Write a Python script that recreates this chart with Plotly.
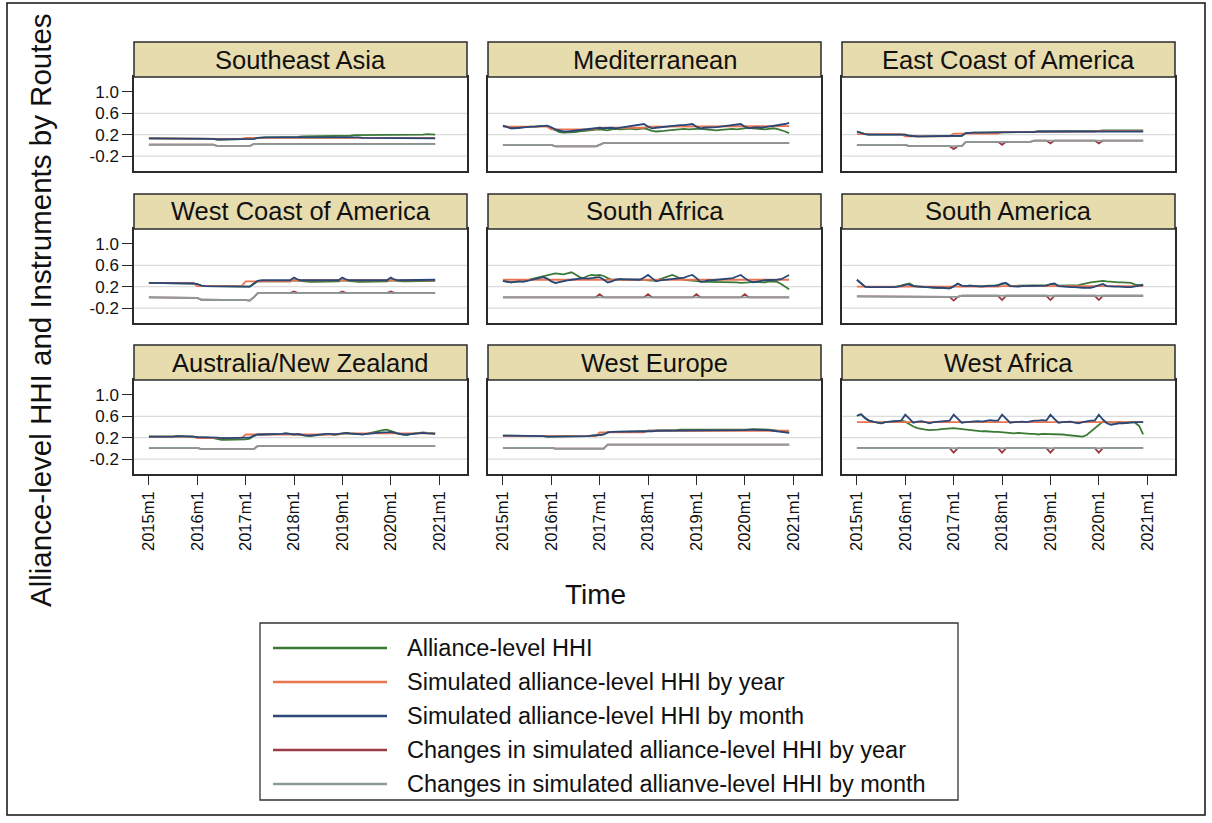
import plotly.graph_objects as go

# ---------------- data ----------------
REGIONS = ["Southeast Asia", "Mediterranean", "East Coast of America",
           "West Coast of America", "South Africa", "South America",
           "Australia/New Zealand", "West Europe", "West Africa"]
SERIES_NAMES = ["Alliance-level HHI",
                "Simulated alliance-level HHI by year",
                "Simulated alliance-level HHI by month",
                "Changes in simulated alliance-level HHI by year",
                "Changes in simulated allianve-level HHI by month"]
MONTHS = [f"{y}m{m}" for y in range(2015, 2021) for m in range(1, 13)]
X_TICK_LABELS = ["2015m1", "2016m1", "2017m1", "2018m1", "2019m1", "2020m1", "2021m1"]
Y_TICKS = [-0.2, 0.2, 0.6, 1.0]
Y_GRID = [-0.2, 0.2, 0.6]

# Southeast Asia
SEA_HHI = [0.13,0.13,0.13,0.12,0.13,0.13,0.13,0.12,0.13,0.13,0.12,0.12,
           0.12,0.12,0.12,0.12,0.12,0.11,0.11,0.11,0.11,0.11,0.11,0.11,
           0.11,0.11,0.12,0.14,0.15,0.15,0.15,0.15,0.15,0.16,0.16,0.16,
           0.16,0.16,0.17,0.17,0.17,0.17,0.17,0.18,0.18,0.17,0.18,0.18,
           0.18,0.18,0.18,0.19,0.19,0.19,0.19,0.19,0.19,0.19,0.20,0.20,
           0.20,0.20,0.20,0.20,0.20,0.20,0.20,0.20,0.20,0.21,0.20,0.20]
SEA_SIM_Y = [0.13]*12 + [0.12]*12 + [0.14]*12 + [0.15]*12 + [0.15]*12 + [0.14]*12
SEA_SIM_M = [0.13,0.13,0.13,0.12,0.13,0.13,0.13,0.12,0.13,0.13,0.12,0.12,
             0.12,0.12,0.12,0.12,0.12,0.11,0.11,0.11,0.11,0.11,0.11,0.11,
             0.11,0.11,0.12,0.14,0.15,0.15,0.15,0.15,0.15,0.15,0.15,0.15,
             0.15,0.15,0.15,0.16,0.15,0.15,0.16,0.16,0.15,0.15,0.15,0.15,
             0.15,0.15,0.15,0.15,0.15,0.14,0.14,0.14,0.14,0.14,0.14,0.14,
             0.14,0.14,0.13,0.13,0.13,0.13,0.13,0.13,0.13,0.13,0.13,0.13]
SEA_CHG_Y = [0.015,0.015,0.015,0.015,0.015,0.015,0.015,0.015,0.015,0.015,0.015,0.015,
             0.015,0.015,0.015,0.015,0.015,-0.015,-0.015,-0.015,-0.015,-0.015,-0.015,-0.015,
             -0.015,-0.015,0.025,0.025,0.025,0.025,0.025,0.025,0.025,0.025,0.025,0.025,
             0.012,0.025,0.025,0.025,0.025,0.025,0.025,0.025,0.025,0.025,0.025,0.025,
             0.012,0.025,0.025,0.025,0.025,0.025,0.025,0.025,0.025,0.025,0.025,0.025,
             0.012,0.025,0.025,0.025,0.025,0.025,0.025,0.025,0.025,0.025,0.025,0.025]
SEA_CHG_M = [0.015,0.015,0.015,0.015,0.015,0.015,0.015,0.015,0.015,0.015,0.015,0.015,
             0.015,0.015,0.015,0.015,0.015,-0.015,-0.015,-0.015,-0.015,-0.015,-0.015,-0.015,
             -0.015,-0.015,0.025,0.025,0.025,0.025,0.025,0.025,0.025,0.025,0.025,0.025,
             0.025,0.025,0.025,0.025,0.025,0.025,0.025,0.025,0.025,0.025,0.025,0.025,
             0.025,0.025,0.025,0.025,0.025,0.025,0.025,0.025,0.025,0.025,0.025,0.025,
             0.025,0.025,0.025,0.025,0.025,0.025,0.025,0.025,0.025,0.025,0.025,0.025]

# Mediterranean
MED_HHI = [0.36,0.35,0.32,0.32,0.33,0.34,0.34,0.35,0.35,0.36,0.36,0.36,
           0.32,0.28,0.25,0.24,0.24,0.24,0.25,0.26,0.27,0.27,0.28,0.29,
           0.30,0.29,0.28,0.30,0.31,0.30,0.31,0.31,0.31,0.30,0.31,0.32,
           0.30,0.27,0.26,0.26,0.27,0.28,0.29,0.30,0.31,0.31,0.30,0.31,
           0.31,0.31,0.30,0.29,0.28,0.28,0.29,0.30,0.30,0.31,0.30,0.31,
           0.32,0.33,0.32,0.31,0.30,0.30,0.31,0.32,0.31,0.29,0.26,0.23]
MED_SIM_Y = [0.35]*12 + [0.30]*12 + [0.33]*12 + [0.35]*12 + [0.35]*12 + [0.36]*12
MED_SIM_M = [0.37,0.35,0.32,0.32,0.33,0.34,0.34,0.35,0.35,0.36,0.36,0.37,
             0.34,0.30,0.28,0.26,0.26,0.27,0.28,0.29,0.29,0.30,0.31,0.32,
             0.33,0.32,0.33,0.33,0.32,0.33,0.35,0.36,0.37,0.38,0.39,0.40,
             0.35,0.32,0.33,0.34,0.35,0.35,0.36,0.37,0.38,0.38,0.39,0.40,
             0.35,0.32,0.33,0.33,0.34,0.34,0.35,0.36,0.37,0.38,0.39,0.40,
             0.35,0.32,0.33,0.34,0.33,0.34,0.35,0.36,0.37,0.38,0.40,0.42]
MED_CHG_Y = [0.008,0.008,0.008,0.008,0.008,0.008,0.008,0.008,0.008,0.008,0.008,0.008,
             0.008,-0.02,-0.02,-0.02,-0.02,-0.02,-0.02,-0.02,-0.02,-0.02,-0.02,-0.02,
             0.01,0.045,0.045,0.045,0.045,0.045,0.045,0.045,0.045,0.045,0.045,0.045,
             0.032,0.045,0.045,0.045,0.045,0.045,0.045,0.045,0.045,0.045,0.045,0.045,
             0.032,0.045,0.045,0.045,0.045,0.045,0.045,0.045,0.045,0.045,0.045,0.045,
             0.032,0.045,0.045,0.045,0.045,0.045,0.045,0.045,0.045,0.045,0.045,0.045]
MED_CHG_M = [0.008,0.008,0.008,0.008,0.008,0.008,0.008,0.008,0.008,0.008,0.008,0.008,
             0.008,-0.02,-0.02,-0.02,-0.02,-0.02,-0.02,-0.02,-0.02,-0.02,-0.02,-0.02,
             0.01,0.045,0.045,0.045,0.045,0.045,0.045,0.045,0.045,0.045,0.045,0.045,
             0.045,0.045,0.045,0.045,0.045,0.045,0.045,0.045,0.045,0.045,0.045,0.045,
             0.045,0.045,0.045,0.045,0.045,0.045,0.045,0.045,0.045,0.045,0.045,0.045,
             0.045,0.045,0.045,0.045,0.045,0.045,0.045,0.045,0.045,0.045,0.045,0.045]

# East Coast of America
ECA_HHI = [0.26,0.23,0.21,0.20,0.20,0.20,0.20,0.20,0.20,0.20,0.20,0.20,
           0.20,0.18,0.17,0.17,0.17,0.17,0.17,0.17,0.17,0.17,0.17,0.17,
           0.17,0.17,0.18,0.23,0.24,0.24,0.24,0.24,0.24,0.24,0.24,0.24,
           0.24,0.24,0.25,0.24,0.24,0.24,0.24,0.25,0.25,0.26,0.26,0.26,
           0.26,0.26,0.26,0.26,0.26,0.26,0.27,0.27,0.27,0.27,0.27,0.27,
           0.27,0.28,0.28,0.28,0.28,0.28,0.28,0.28,0.28,0.28,0.28,0.28]
ECA_SIM_Y = [0.21]*12 + [0.17]*12 + [0.22]*12 + [0.25]*12 + [0.26]*12 + [0.27]*12
ECA_SIM_M = [0.26,0.23,0.21,0.20,0.20,0.20,0.20,0.20,0.20,0.20,0.20,0.20,
             0.20,0.18,0.17,0.17,0.17,0.17,0.17,0.17,0.17,0.17,0.17,0.17,
             0.17,0.17,0.18,0.23,0.24,0.24,0.24,0.24,0.24,0.24,0.24,0.24,
             0.24,0.24,0.25,0.24,0.24,0.24,0.24,0.25,0.25,0.26,0.26,0.26,
             0.26,0.26,0.26,0.26,0.26,0.26,0.26,0.26,0.26,0.26,0.26,0.26,
             0.26,0.26,0.26,0.27,0.26,0.26,0.26,0.27,0.26,0.26,0.26,0.26]
ECA_CHG_Y = [0.01,0.01,0.01,0.01,0.01,0.01,0.01,0.01,0.01,0.01,0.01,0.01,
             0.01,-0.015,-0.015,-0.015,-0.015,-0.015,-0.015,-0.015,-0.015,-0.015,-0.015,-0.015,
             -0.07,-0.015,-0.015,0.065,0.065,0.065,0.065,0.065,0.065,0.065,0.065,0.065,
             0.01,0.065,0.065,0.065,0.065,0.065,0.065,0.065,0.09,0.09,0.09,0.09,
             0.035,0.09,0.09,0.09,0.09,0.09,0.09,0.09,0.09,0.09,0.09,0.09,
             0.035,0.09,0.09,0.09,0.09,0.09,0.09,0.09,0.09,0.09,0.09,0.09]
ECA_CHG_M = [0.01,0.01,0.01,0.01,0.01,0.01,0.01,0.01,0.01,0.01,0.01,0.01,
             0.01,-0.015,-0.015,-0.015,-0.015,-0.015,-0.015,-0.015,-0.015,-0.015,-0.015,-0.015,
             -0.015,-0.015,-0.015,0.065,0.065,0.065,0.065,0.065,0.065,0.065,0.065,0.065,
             0.065,0.065,0.065,0.065,0.065,0.065,0.065,0.065,0.09,0.09,0.09,0.09,
             0.09,0.09,0.09,0.09,0.09,0.09,0.09,0.09,0.09,0.09,0.09,0.09,
             0.09,0.09,0.09,0.09,0.09,0.09,0.09,0.09,0.09,0.09,0.09,0.09]

# West Coast of America
WCA_HHI = [0.27,0.27,0.27,0.26,0.27,0.27,0.26,0.26,0.26,0.26,0.26,0.26,
           0.25,0.22,0.21,0.21,0.21,0.21,0.21,0.21,0.21,0.21,0.21,0.21,
           0.20,0.20,0.25,0.30,0.30,0.30,0.30,0.30,0.30,0.30,0.30,0.30,
           0.32,0.31,0.30,0.29,0.29,0.29,0.29,0.30,0.30,0.30,0.30,0.30,
           0.32,0.31,0.30,0.29,0.29,0.29,0.29,0.30,0.30,0.30,0.30,0.30,
           0.32,0.31,0.30,0.30,0.30,0.30,0.30,0.30,0.30,0.31,0.31,0.31]
WCA_SIM_Y = [0.27]*12 + [0.21]*12 + [0.30]*12 + [0.32]*12 + [0.32]*12 + [0.32]*12
WCA_SIM_M = [0.27,0.27,0.27,0.26,0.27,0.27,0.26,0.26,0.26,0.26,0.26,0.26,
             0.25,0.22,0.21,0.21,0.21,0.21,0.21,0.21,0.21,0.21,0.21,0.21,
             0.21,0.20,0.26,0.31,0.32,0.32,0.32,0.32,0.32,0.32,0.32,0.32,
             0.37,0.33,0.32,0.32,0.32,0.32,0.32,0.32,0.32,0.32,0.32,0.32,
             0.37,0.33,0.32,0.32,0.32,0.32,0.32,0.32,0.32,0.32,0.32,0.32,
             0.37,0.33,0.32,0.32,0.32,0.32,0.32,0.32,0.32,0.32,0.33,0.33]
WCA_CHG_Y = [0.0,0.0,0.0,0.0,0.0,0.0,0.0,0.0,0.0,0.0,0.0,0.0,
             -0.01,-0.045,-0.045,-0.045,-0.045,-0.045,-0.045,-0.045,-0.045,-0.045,-0.045,-0.045,
             -0.05,-0.06,0.0,0.08,0.08,0.08,0.08,0.08,0.08,0.08,0.08,0.08,
             0.11,0.08,0.08,0.08,0.08,0.08,0.08,0.08,0.08,0.08,0.08,0.08,
             0.11,0.08,0.08,0.08,0.08,0.08,0.08,0.08,0.08,0.08,0.08,0.08,
             0.11,0.08,0.08,0.08,0.08,0.08,0.08,0.08,0.08,0.08,0.08,0.08]
WCA_CHG_M = [0.0,0.0,0.0,0.0,0.0,0.0,0.0,0.0,0.0,0.0,0.0,0.0,
             -0.01,-0.045,-0.045,-0.045,-0.045,-0.045,-0.045,-0.045,-0.045,-0.045,-0.045,-0.045,
             -0.05,-0.06,0.0,0.08,0.08,0.08,0.08,0.08,0.08,0.08,0.08,0.08,
             0.08,0.08,0.08,0.08,0.08,0.08,0.08,0.08,0.08,0.08,0.08,0.08,
             0.08,0.08,0.08,0.08,0.08,0.08,0.08,0.08,0.08,0.08,0.08,0.08,
             0.08,0.08,0.08,0.08,0.08,0.08,0.08,0.08,0.08,0.08,0.08,0.08]

# South Africa
SAF_HHI = [0.31,0.30,0.28,0.29,0.30,0.30,0.32,0.34,0.36,0.38,0.40,0.42,
           0.44,0.45,0.44,0.43,0.45,0.47,0.43,0.38,0.36,0.40,0.42,0.41,
           0.42,0.40,0.36,0.33,0.33,0.34,0.33,0.33,0.34,0.33,0.34,0.33,
           0.32,0.31,0.31,0.34,0.37,0.40,0.42,0.39,0.35,0.33,0.32,0.31,
           0.30,0.30,0.29,0.29,0.29,0.29,0.29,0.28,0.28,0.28,0.28,0.27,
           0.27,0.28,0.29,0.29,0.28,0.28,0.30,0.30,0.29,0.25,0.20,0.15]
SAF_SIM_Y = [0.33]*12 + [0.33]*12 + [0.33]*12 + [0.33]*12 + [0.33]*12 + [0.33]*12
SAF_SIM_M = [0.31,0.30,0.28,0.29,0.30,0.29,0.31,0.33,0.35,0.36,0.38,0.35,
             0.30,0.27,0.29,0.30,0.32,0.33,0.34,0.35,0.36,0.35,0.36,0.37,
             0.38,0.33,0.28,0.30,0.33,0.34,0.34,0.33,0.33,0.34,0.33,0.37,
             0.42,0.36,0.30,0.32,0.33,0.34,0.35,0.35,0.36,0.37,0.40,0.42,
             0.36,0.29,0.30,0.32,0.32,0.33,0.33,0.34,0.35,0.36,0.39,0.42,
             0.36,0.31,0.28,0.30,0.31,0.32,0.32,0.32,0.33,0.34,0.38,0.42]
SAF_CHG_Y = [0.0]*24 + [0.06] + [0.0]*11 + [0.06] + [0.0]*11 + [0.06] + [0.0]*11 + [0.06] + [0.0]*11
SAF_CHG_M = [0.0]*72

# South America
SAM_HHI = [0.33,0.26,0.20,0.19,0.19,0.18,0.18,0.18,0.18,0.19,0.20,0.22,
           0.25,0.26,0.22,0.20,0.20,0.19,0.19,0.18,0.18,0.18,0.17,0.17,
           0.20,0.25,0.22,0.21,0.22,0.21,0.21,0.21,0.22,0.22,0.22,0.23,
           0.25,0.26,0.22,0.21,0.22,0.22,0.22,0.22,0.23,0.23,0.23,0.23,
           0.24,0.25,0.22,0.22,0.22,0.23,0.23,0.23,0.25,0.27,0.28,0.29,
           0.30,0.31,0.30,0.29,0.29,0.28,0.28,0.28,0.27,0.24,0.23,0.24]
SAM_SIM_Y = [0.20]*12 + [0.19]*12 + [0.20]*12 + [0.21]*12 + [0.21]*12 + [0.21]*12
SAM_SIM_M = [0.33,0.26,0.20,0.19,0.19,0.18,0.18,0.18,0.18,0.19,0.20,0.21,
             0.24,0.24,0.21,0.20,0.20,0.19,0.19,0.18,0.18,0.18,0.17,0.17,
             0.21,0.26,0.22,0.21,0.22,0.21,0.21,0.20,0.21,0.21,0.21,0.22,
             0.26,0.27,0.21,0.20,0.20,0.21,0.21,0.21,0.21,0.21,0.21,0.22,
             0.25,0.26,0.21,0.20,0.19,0.19,0.19,0.18,0.18,0.18,0.18,0.20,
             0.22,0.25,0.21,0.20,0.20,0.20,0.19,0.19,0.19,0.21,0.22,0.23]
SAM_CHG_Y = [0.02]*13 + [0.01]*11 + [-0.06] + [0.01] + [0.03]*10 + [-0.05] + [0.03]*11 + [-0.05] + [0.03]*11 + [-0.05] + [0.03]*11
SAM_CHG_M = [0.02]*13 + [0.01]*13 + [0.03]*46

# Australia/New Zealand
ANZ_HHI = [0.22,0.22,0.21,0.21,0.22,0.21,0.22,0.23,0.23,0.22,0.22,0.22,
           0.21,0.21,0.20,0.20,0.19,0.17,0.16,0.16,0.16,0.16,0.16,0.17,
           0.17,0.18,0.23,0.26,0.26,0.26,0.27,0.26,0.26,0.27,0.28,0.27,
           0.26,0.26,0.24,0.23,0.23,0.24,0.25,0.26,0.26,0.27,0.26,0.27,
           0.28,0.28,0.27,0.27,0.26,0.26,0.27,0.29,0.31,0.33,0.34,0.35,
           0.33,0.30,0.27,0.26,0.25,0.27,0.28,0.29,0.30,0.29,0.28,0.28]
ANZ_SIM_Y = [0.22]*12 + [0.19]*12 + [0.26]*12 + [0.26]*12 + [0.28]*12 + [0.28]*12
ANZ_SIM_M = [0.22,0.22,0.21,0.21,0.22,0.21,0.22,0.23,0.23,0.22,0.22,0.22,
             0.21,0.21,0.20,0.20,0.20,0.20,0.19,0.19,0.19,0.19,0.19,0.20,
             0.20,0.20,0.24,0.26,0.26,0.26,0.27,0.26,0.26,0.27,0.28,0.27,
             0.26,0.27,0.25,0.24,0.24,0.25,0.26,0.26,0.27,0.27,0.26,0.27,
             0.28,0.29,0.28,0.27,0.26,0.26,0.27,0.28,0.28,0.29,0.30,0.30,
             0.31,0.29,0.27,0.26,0.26,0.27,0.28,0.28,0.29,0.28,0.28,0.27]
ANZ_CHG_Y = [0.01]*13 + [-0.015]*14 + [0.045,0.045,0.045,0.045,0.05,0.045,0.045,0.045,0.045,
             0.04,0.045,0.045,0.05,0.045,0.045,0.04,0.045,0.045,0.045,0.05,0.045,
             0.04,0.045,0.045,0.045,0.045,0.05,0.045,0.045,0.04,0.045,0.045,0.045,
             0.04,0.045,0.045,0.045,0.045,0.045,0.05,0.045,0.045,0.04,0.045,0.045]
ANZ_CHG_M = [0.01]*13 + [-0.015]*14 + [0.045,0.045,0.045,0.045,0.05,0.045,0.045,0.045,0.045,
             0.045,0.045,0.045,0.05,0.045,0.045,0.04,0.045,0.045,0.045,0.05,0.045,
             0.045,0.045,0.045,0.045,0.045,0.05,0.045,0.045,0.04,0.045,0.045,0.045,
             0.045,0.045,0.045,0.045,0.045,0.045,0.05,0.045,0.045,0.04,0.045,0.045]

# West Europe
WEU_HHI = [0.24,0.24,0.24,0.24,0.23,0.23,0.23,0.23,0.23,0.23,0.23,0.22,
           0.22,0.22,0.22,0.22,0.22,0.22,0.22,0.23,0.23,0.23,0.24,0.24,
           0.25,0.26,0.30,0.31,0.31,0.31,0.32,0.32,0.32,0.32,0.32,0.32,
           0.33,0.33,0.33,0.33,0.34,0.34,0.34,0.34,0.35,0.35,0.35,0.35,
           0.35,0.35,0.35,0.34,0.34,0.34,0.34,0.34,0.34,0.34,0.35,0.35,
           0.35,0.35,0.36,0.36,0.35,0.35,0.35,0.34,0.33,0.32,0.31,0.30]
WEU_SIM_Y = [0.23]*12 + [0.23]*12 + [0.30]*12 + [0.33]*12 + [0.34]*12 + [0.33]*12
WEU_SIM_M = [0.24,0.24,0.24,0.24,0.23,0.23,0.23,0.23,0.23,0.23,0.23,0.22,
             0.22,0.22,0.22,0.22,0.22,0.22,0.22,0.23,0.23,0.23,0.24,0.24,
             0.25,0.26,0.30,0.31,0.31,0.31,0.31,0.31,0.32,0.32,0.32,0.32,
             0.32,0.32,0.33,0.33,0.33,0.33,0.34,0.34,0.34,0.34,0.34,0.34,
             0.34,0.34,0.34,0.33,0.33,0.33,0.33,0.33,0.34,0.34,0.34,0.34,
             0.34,0.35,0.35,0.35,0.34,0.34,0.34,0.33,0.32,0.31,0.30,0.29]
WEU_CHG_Y = [0.01]*13 + [-0.005]*13 + [0.07,0.07,0.07,0.07,0.07,0.07,0.07,0.07,0.07,0.07,
             0.075,0.07,0.07,0.07,0.07,0.07,0.07,0.07,0.07,0.07,0.07,0.07,
             0.075,0.07,0.07,0.07,0.07,0.07,0.07,0.07,0.07,0.07,0.07,0.07,
             0.075,0.07,0.07,0.07,0.07,0.07,0.07,0.07,0.07,0.07,0.07,0.07]
WEU_CHG_M = [0.01]*13 + [-0.005]*13 + [0.07]*46

# West Africa
WAF_HHI = [0.61,0.64,0.57,0.52,0.50,0.49,0.47,0.49,0.50,0.51,0.52,0.52,
           0.50,0.45,0.41,0.38,0.36,0.35,0.34,0.34,0.35,0.36,0.37,0.38,
           0.38,0.37,0.36,0.35,0.34,0.33,0.33,0.32,0.32,0.31,0.31,0.31,
           0.30,0.29,0.29,0.28,0.29,0.28,0.28,0.27,0.27,0.26,0.27,0.27,
           0.27,0.26,0.27,0.26,0.25,0.24,0.23,0.23,0.22,0.25,0.31,0.37,
           0.43,0.50,0.49,0.48,0.48,0.49,0.48,0.48,0.49,0.48,0.42,0.26]
WAF_SIM_Y = [0.49]*12 + [0.49]*12 + [0.49]*12 + [0.49]*12 + [0.49]*12 + [0.49]*12
WAF_SIM_M = [0.61,0.64,0.57,0.52,0.50,0.49,0.47,0.49,0.50,0.51,0.52,0.52,
             0.63,0.55,0.48,0.50,0.51,0.49,0.47,0.49,0.50,0.51,0.52,0.52,
             0.63,0.55,0.48,0.49,0.50,0.51,0.51,0.50,0.51,0.53,0.52,0.52,
             0.63,0.55,0.48,0.49,0.50,0.50,0.49,0.51,0.52,0.52,0.53,0.52,
             0.63,0.55,0.48,0.49,0.50,0.50,0.48,0.47,0.49,0.51,0.52,0.52,
             0.63,0.54,0.47,0.44,0.46,0.47,0.47,0.48,0.48,0.49,0.49,0.49]
WAF_CHG_Y = [0.006]*24 + [-0.08] + [0.006]*11 + [-0.08] + [0.006]*11 + [-0.08] + [0.006]*11 + [-0.08] + [0.006]*11
WAF_CHG_M = [0.006]*72

HHI = [SEA_HHI, MED_HHI, ECA_HHI, WCA_HHI, SAF_HHI, SAM_HHI, ANZ_HHI, WEU_HHI, WAF_HHI]
SIM_Y = [SEA_SIM_Y, MED_SIM_Y, ECA_SIM_Y, WCA_SIM_Y, SAF_SIM_Y, SAM_SIM_Y, ANZ_SIM_Y, WEU_SIM_Y, WAF_SIM_Y]
SIM_M = [SEA_SIM_M, MED_SIM_M, ECA_SIM_M, WCA_SIM_M, SAF_SIM_M, SAM_SIM_M, ANZ_SIM_M, WEU_SIM_M, WAF_SIM_M]
CHG_Y = [SEA_CHG_Y, MED_CHG_Y, ECA_CHG_Y, WCA_CHG_Y, SAF_CHG_Y, SAM_CHG_Y, ANZ_CHG_Y, WEU_CHG_Y, WAF_CHG_Y]
CHG_M = [SEA_CHG_M, MED_CHG_M, ECA_CHG_M, WCA_CHG_M, SAF_CHG_M, SAM_CHG_M, ANZ_CHG_M, WEU_CHG_M, WAF_CHG_M]

# ---------------- styling ----------------
COLORS = ["#3B7A35", "#EB7450", "#2A4778", "#9B3B45", "#8C9C9B"]
FONT = "Liberation Sans, Arial, Helvetica, sans-serif"
STRIP_FILL = "#E7DCAE"
W, H = 1212, 823
COL_X = [(134, 467), (488, 821), (842, 1175)]
ROW_Y = [(42, 77, 171), (194, 229, 323), (345, 380, 474)]
X_RANGE = [-3.7, 78.9]
Y_RANGE = [-0.48, 1.28]


def month_index(label):
    y, m = label.split("m")
    return (int(y) - 2015) * 12 + int(m) - 1


MONTH_X = [month_index(m) for m in MONTHS]
TICK_X = [month_index(t) for t in X_TICK_LABELS]


def px(x):
    return x / W


def py(y):
    return 1 - y / H


fig = go.Figure()
shapes, annotations = [], []
layout_axes = {}

for i, region in enumerate(REGIONS):
    r, c = divmod(i, 3)
    sfx = "" if i == 0 else str(i + 1)
    x0, x1 = COL_X[c]
    st, pt, pb = ROW_Y[r]
    series = [HHI[i], SIM_Y[i], SIM_M[i], CHG_Y[i], CHG_M[i]]
    for name, vals, col in zip(SERIES_NAMES, series, COLORS):
        fig.add_trace(go.Scatter(x=MONTH_X[:len(vals)], y=vals, mode="lines", name=name,
                                 line=dict(color=col, width=1.8),
                                 xaxis="x" + sfx, yaxis="y" + sfx, showlegend=False))
    bottom = (r == 2)
    left = (c == 0)
    layout_axes["xaxis" + sfx] = dict(
        domain=[px(x0), px(x1)], range=X_RANGE, anchor="y" + sfx,
        showgrid=False, zeroline=False, showline=True, mirror=True,
        linecolor="#2b2b2b", linewidth=1.5,
        tickmode="array", tickvals=TICK_X, ticktext=X_TICK_LABELS,
        ticks="outside" if bottom else "", ticklen=9, tickwidth=1.4, tickcolor="#2b2b2b",
        showticklabels=bottom, tickangle=-90,
        tickfont=dict(family=FONT, size=16.5, color="#111"))
    layout_axes["yaxis" + sfx] = dict(
        domain=[py(pb), py(pt)], range=Y_RANGE, anchor="x" + sfx,
        showgrid=False, zeroline=False, showline=True, mirror=True,
        linecolor="#2b2b2b", linewidth=1.5,
        tickmode="array", tickvals=Y_TICKS, ticktext=["-0.2", "0.2", "0.6", "1.0"],
        ticks="outside" if left else "", ticklen=10, tickwidth=1.4, tickcolor="#2b2b2b",
        showticklabels=left,
        tickfont=dict(family=FONT, size=17, color="#111"))
    for g in Y_GRID:
        shapes.append(dict(type="line", xref="x" + sfx + " domain", yref="y" + sfx,
                           x0=0, x1=1, y0=g, y1=g, layer="below",
                           line=dict(color="#DCDCDC", width=1.2)))
    shapes.append(dict(type="rect", xref="paper", yref="paper",
                       x0=px(x0), x1=px(x1), y0=py(pt), y1=py(st),
                       fillcolor=STRIP_FILL, line=dict(color="#2b2b2b", width=1.5)))
    annotations.append(dict(xref="paper", yref="paper", x=px((x0 + x1) / 2), y=py((st + pt) / 2),
                            text=region, showarrow=False, xanchor="center", yanchor="middle",
                            font=dict(family=FONT, size=25.5, color="#111")))

# outer frame
shapes.append(dict(type="rect", xref="paper", yref="paper",
                   x0=px(7), x1=px(1205), y0=py(815), y1=py(3),
                   line=dict(color="#111", width=1.5), fillcolor="rgba(0,0,0,0)"))

# axis titles
annotations.append(dict(xref="paper", yref="paper", x=px(40), y=py(310), textangle=-90,
                        text="Alliance-level HHI and Instruments by Routes", showarrow=False,
                        xanchor="center", yanchor="middle",
                        font=dict(family=FONT, size=29.5, color="#111")))
annotations.append(dict(xref="paper", yref="paper", x=px(595), y=py(594),
                        text="Time", showarrow=False, xanchor="center", yanchor="middle",
                        font=dict(family=FONT, size=28, color="#111")))

# legend (drawn manually)
LEG_BOX = (260, 623, 958, 800)
LEG_ROWS = [648, 682, 716, 750, 784]
shapes.append(dict(type="rect", xref="paper", yref="paper",
                   x0=px(LEG_BOX[0]), x1=px(LEG_BOX[2]), y0=py(LEG_BOX[3]), y1=py(LEG_BOX[1]),
                   line=dict(color="#333", width=1.3), fillcolor="white"))
for name, col, yy in zip(SERIES_NAMES, COLORS, LEG_ROWS):
    shapes.append(dict(type="line", xref="paper", yref="paper",
                       x0=px(273), x1=px(387), y0=py(yy), y1=py(yy),
                       line=dict(color=col, width=2.4)))
    annotations.append(dict(xref="paper", yref="paper", x=px(405), y=py(yy),
                            text=name, showarrow=False, xanchor="left", yanchor="middle",
                            font=dict(family=FONT, size=23.5, color="#111")))

fig.update_layout(width=W, height=H, margin=dict(l=0, r=0, t=0, b=0),
                  paper_bgcolor="white", plot_bgcolor="white",
                  shapes=shapes, annotations=annotations, showlegend=False,
                  **layout_axes)

fig.write_html("out.html", config={"displayModeBar": False},
               post_script="document.body.style.margin='0';")
